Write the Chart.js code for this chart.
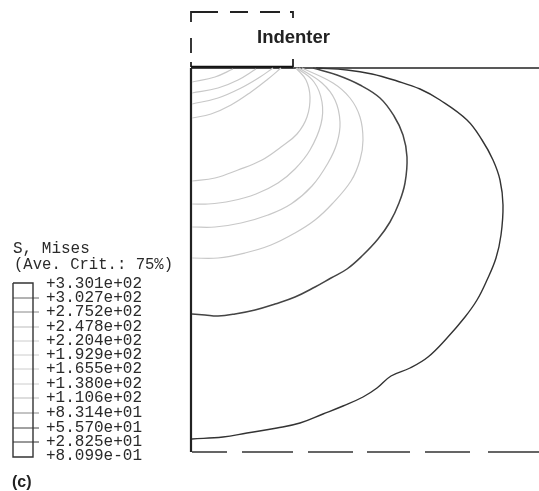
<!DOCTYPE html>
<html>
<head>
<meta charset="utf-8">
<title>S, Mises</title>
<script src="https://cdn.jsdelivr.net/npm/chart.js@4"></script>
<style>
  html, body { margin: 0; padding: 0; background: #fff; }
  canvas { display: block; filter: blur(0.45px); }
</style>
</head>
<body>
<canvas id="chart" width="539" height="491"></canvas>
<script>
// contours, x then y, y grows downwards
const outerContour = [[316,68],[347,70],[372,74],[397,81],[420,89],[440,100],[467,120],[482,140],[493,160],[500,180],[503,205],[501,235],[496,258],[487,280],[477,300],[465,317],[447,338],[428,357],[410,368],[391,376],[377,388],[363,397],[343,406],[323,414],[300,423],[277,428],[247,433],[223,437],[192,439]];
const secondContour = [[313,68],[337,75],[360,85],[380,98],[394,116],[403,135],[407,157],[405,183],[399,203],[390,222],[378,239],[363,255],[347,269],[331,278],[315,287],[295,297],[275,304],[255,310],[235,314],[218,316],[205,315],[192,314]];
const lightA = [[302,68],[333,83],[350,98],[360,117],[363,140],[360,160],[351,181],[332,204],[315,220],[295,233],[271,245],[245,253],[218,258],[192,258]];
const lightB = [[299,68],[322,83],[335,100],[340,122],[337,143],[328,163],[312,186],[291,204],[268,215],[241,223],[215,227],[192,227]];
const lightC = [[297,68],[314,82],[322,102],[321,124],[310,150],[295,169],[278,183],[256,194],[231,201],[208,204],[192,204]];
const lightD = [[296,68],[306,80],[310,97],[307,117],[297,134],[281,147],[262,160],[238,170],[215,178],[192,181]];
const lightE = [[281,68],[268,79],[251,92],[231,105],[211,114],[192,118]];
const lightF = [[273,68],[260,77],[241,88],[218,98],[192,104]];
const lightG = [[256,69],[238,80],[218,88],[192,93]];
const lightH = [[233,69],[215,77],[192,82]];

// outline of the part, null breaks the line
const leftEdge = [[191,68],[191,452]];
const topEdge = [[191,68],[539,68]];
const contactEdge = [[191,67],[293,67]];
const bottomDashes = [[192,452],[227,452],null,[242,452],[293,452],null,[308,452],[353,452],null,[367,452],[410,452],null,[425,452],[470,452],null,[488,452],[539,452]];
const indenterDashes = [[191,67],[191,62],null,[191,53],[191,38],null,[191,22],[191,12],[218,12],null,[230,12],[248,12],null,[260,12],[280,12],null,[290,12],[293,12],[293,18],null,[293,59],[293,67]];

// legend
const legendTitle = ["S, Mises", "(Ave. Crit.: 75%)"];
const legendLabels = ["+3.301e+02","+3.027e+02","+2.752e+02","+2.478e+02","+2.204e+02","+1.929e+02","+1.655e+02","+1.380e+02","+1.106e+02","+8.314e+01","+5.570e+01","+2.825e+01","+8.099e-01"];
const legendRows = [283,297,311,326,340,354,368,383,397,412,427,441,455];
const legendGreys = ["#444","#666","#888","#bbb","#ccc","#ccc","#ccc","#ccc","#bbb","#888","#444","#333","#444"];
const legendBox = [[13,283],[33,283],[33,457],[13,457],[13,283]];

function toPoints(rows) {
  return rows.map((p) => (p ? { x: p[0], y: p[1] } : { x: null, y: null }));
}

function line(rows, color, width, tension) {
  return {
    data: toPoints(rows),
    borderColor: color,
    borderWidth: width,
    tension: tension || 0,
    showLine: true,
    pointRadius: 0,
    spanGaps: false,
  };
}

const datasets = [
  line(lightH, "#c8c8c8", 1.2, 0.4),
  line(lightG, "#c8c8c8", 1.2, 0.4),
  line(lightF, "#c8c8c8", 1.2, 0.4),
  line(lightE, "#c8c8c8", 1.2, 0.4),
  line(lightD, "#c8c8c8", 1.2, 0.4),
  line(lightC, "#c8c8c8", 1.2, 0.4),
  line(lightB, "#c8c8c8", 1.2, 0.4),
  line(lightA, "#c8c8c8", 1.2, 0.4),
  line(secondContour, "#444", 1.5, 0.4),
  line(outerContour, "#333", 1.4, 0.4),
  line(topEdge, "#222", 1.5),
  line(leftEdge, "#222", 2.2),
  line(contactEdge, "#111", 2.6),
  line(bottomDashes, "#333", 1.7),
  line(indenterDashes, "#222", 1.8),
  line(legendBox, "#333", 1.4),
];

// one tick per level, drawn across the colour box
legendRows.slice(1, -1).forEach((row, i) => {
  datasets.push(line([[13, row + 1], [39, row + 1]], legendGreys[i + 1], 1));
});

// chart labels placed through the scales
const textLabels = {
  id: "textLabels",
  afterDatasetsDraw(chart) {
    const { ctx, scales } = chart;
    const put = (text, x, y) => ctx.fillText(text, scales.x.getPixelForValue(x), scales.y.getPixelForValue(y));
    ctx.save();
    ctx.textBaseline = "alphabetic";
    ctx.fillStyle = "#2a2a2a";
    ctx.font = "16px 'Liberation Mono'";
    put(legendTitle[0], 13, 253);
    ctx.font = "15.6px 'Liberation Mono'";
    put(legendTitle[1], 14, 269);
    ctx.font = "16px 'Liberation Mono'";
    legendLabels.forEach((label, i) => put(label, 46, legendRows[i] + 5));
    ctx.fillStyle = "#222";
    ctx.font = "bold 18.5px 'Liberation Sans'";
    put("Indenter", 257, 42.5);
    ctx.font = "bold 16px 'Liberation Sans'";
    put("(c)", 12, 487);
    ctx.restore();
  },
};

new Chart(document.getElementById("chart").getContext("2d"), {
  type: "scatter",
  data: { datasets: datasets },
  plugins: [textLabels],
  options: {
    responsive: false,
    animation: false,
    layout: { padding: 0 },
    plugins: { legend: { display: false }, tooltip: { enabled: false } },
    scales: {
      x: { type: "linear", min: 0, max: 539, display: false },
      y: { type: "linear", min: 0, max: 491, reverse: true, display: false },
    },
  },
});
</script>
</body>
</html>
